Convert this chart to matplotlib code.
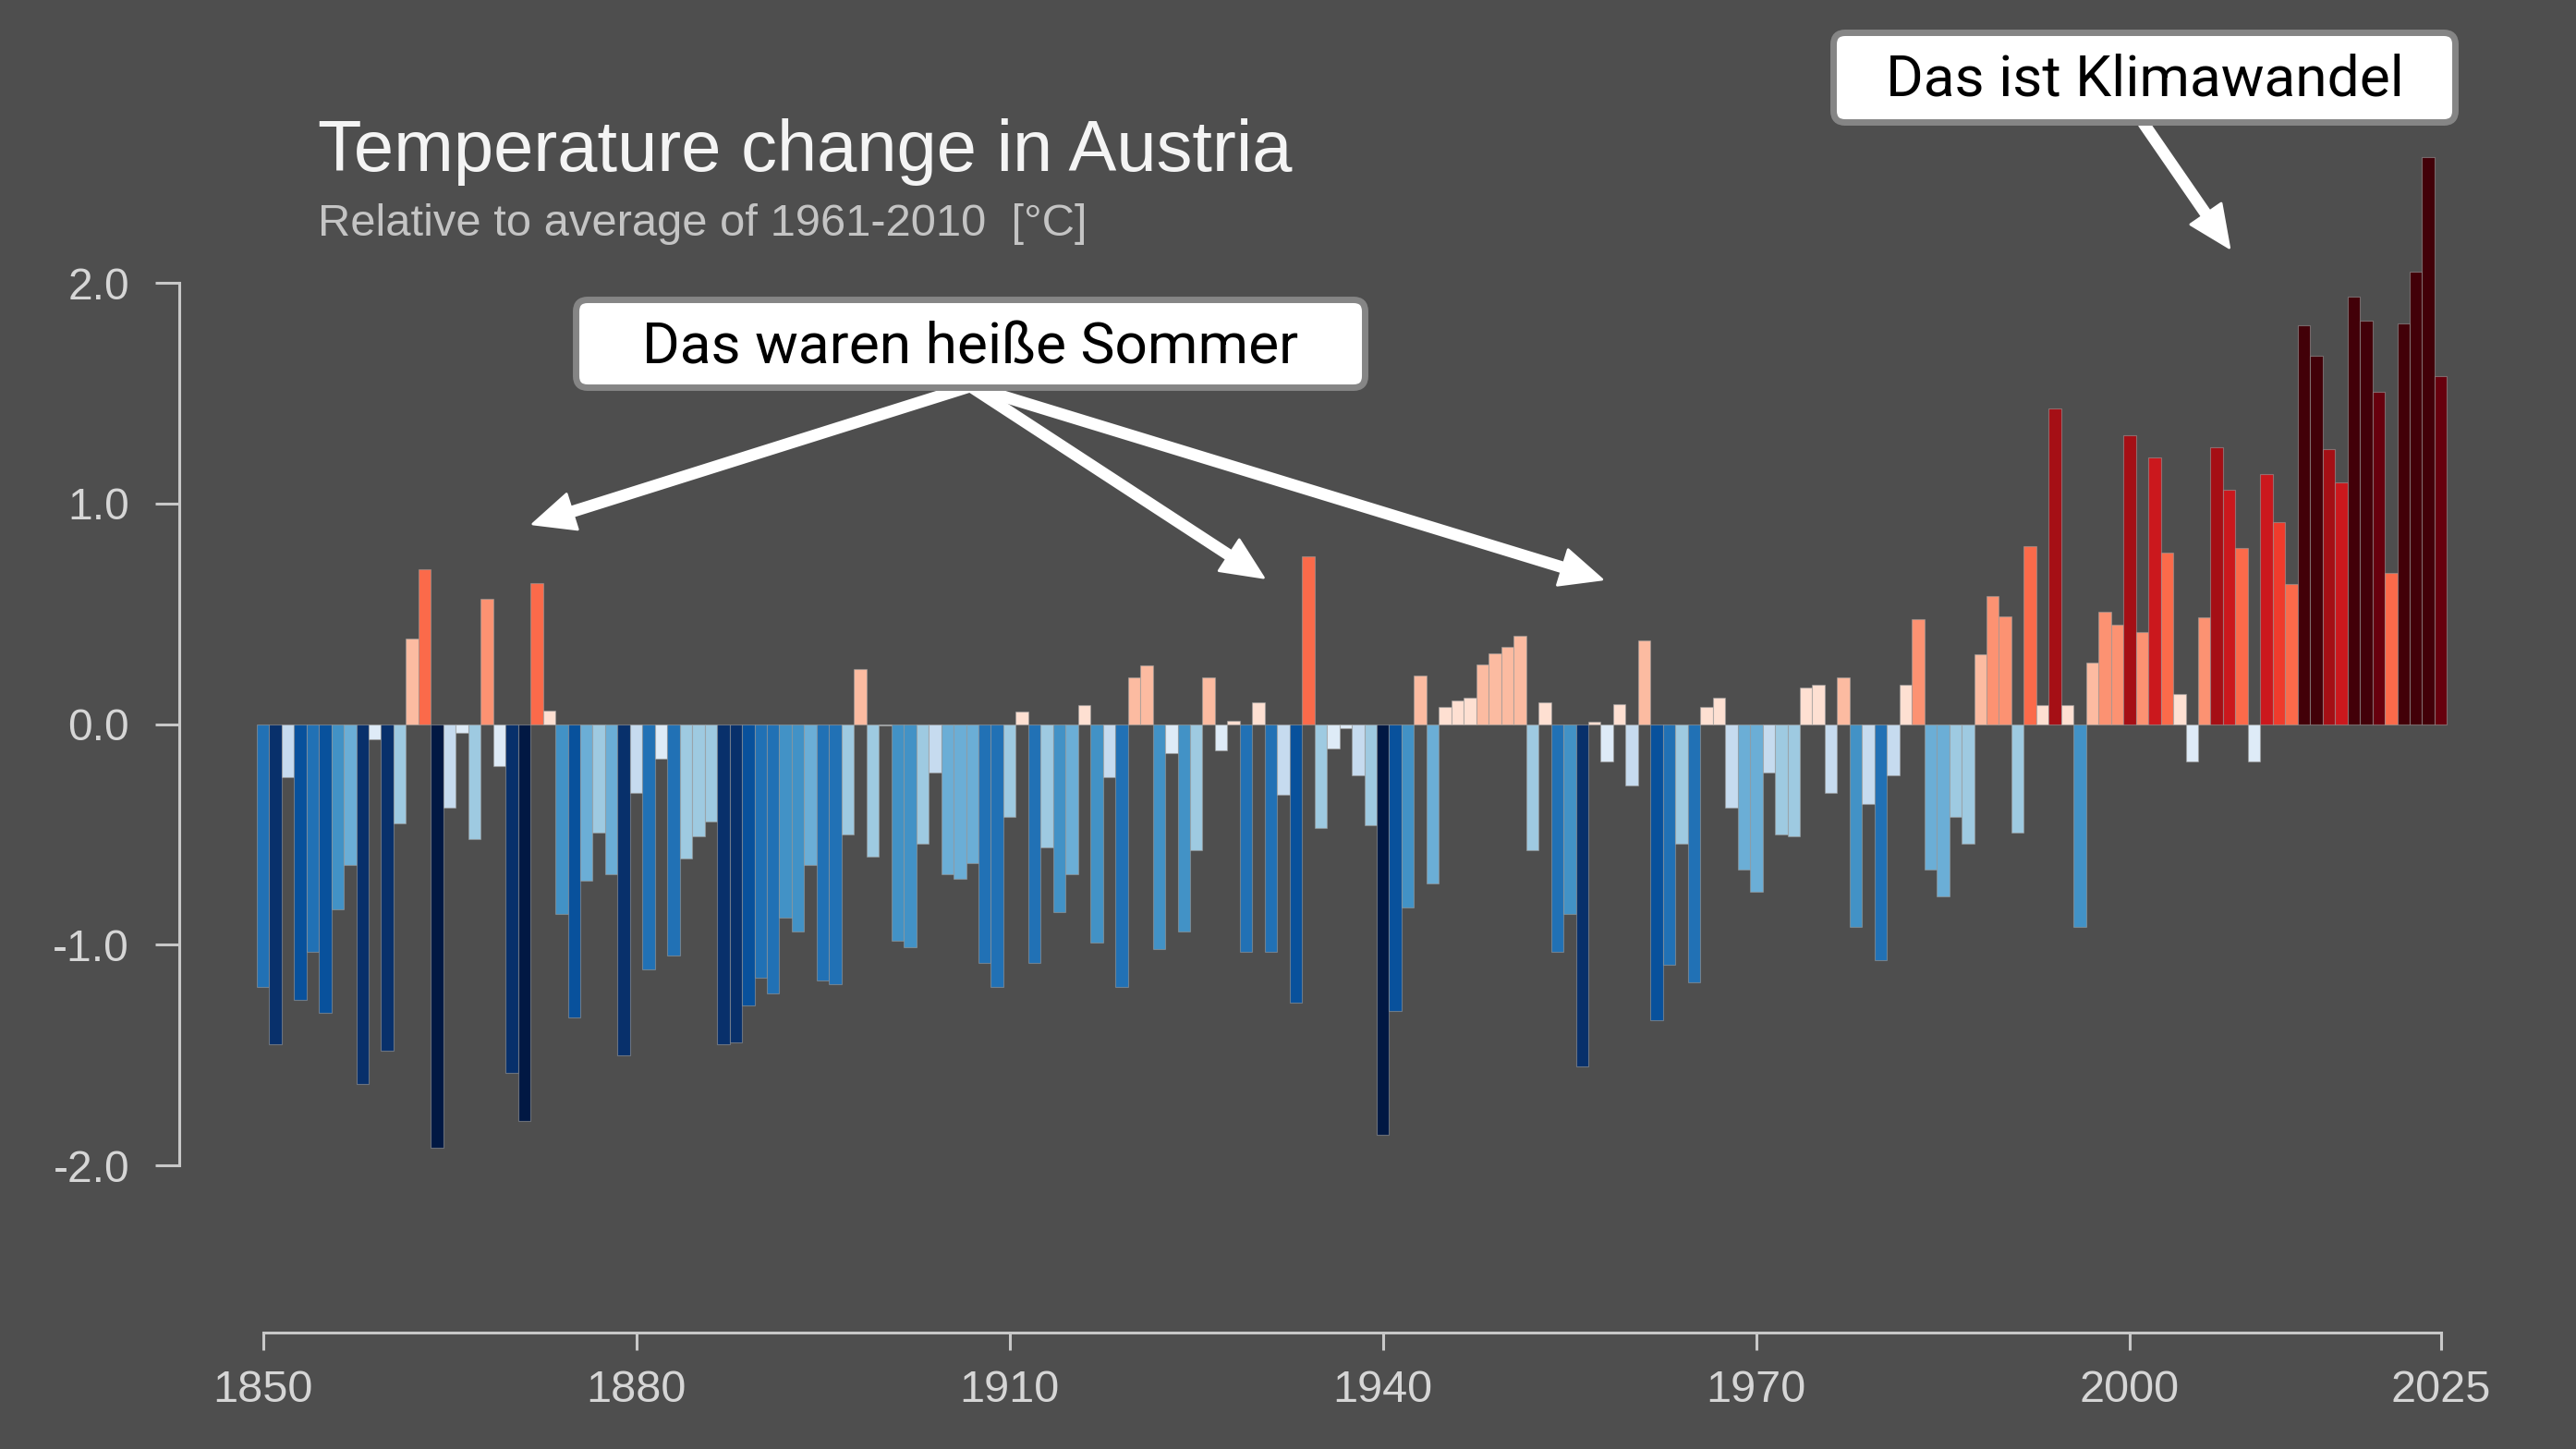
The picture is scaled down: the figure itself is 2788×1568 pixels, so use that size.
import numpy as np
import matplotlib
matplotlib.use("Agg")
from matplotlib import pyplot as plt
from matplotlib.patches import FancyBboxPatch
from matplotlib.ticker import FormatStrFormatter

# Temperature anomaly per year, relative to 1961-2010 mean [°C]
years = np.arange(1850, 2026)
anomaly = [
    -1.19, -1.45, -0.24, -1.25, -1.03, -1.31, -0.84, -0.64, -1.63, -0.07,   # 1850s
    -1.48, -0.45, 0.39, 0.70, -1.92, -0.38, -0.04, -0.52, 0.57, -0.19,      # 1860s
    -1.58, -1.80, 0.64, 0.06, -0.86, -1.33, -0.71, -0.49, -0.68, -1.50,     # 1870s
    -0.31, -1.11, -0.155, -1.05, -0.61, -0.51, -0.44, -1.45, -1.44, -1.275, # 1880s
    -1.15, -1.22, -0.875, -0.94, -0.64, -1.16, -1.18, -0.50, 0.25, -0.60,   # 1890s
    -0.005, -0.98, -1.01, -0.54, -0.22, -0.68, -0.70, -0.63, -1.08, -1.19,  # 1900s
    -0.42, 0.056, -1.08, -0.56, -0.85, -0.68, 0.086, -0.99, -0.24, -1.19,   # 1910s
    0.21, 0.267, -1.02, -0.13, -0.94, -0.57, 0.21, -0.12, 0.015, -1.03,     # 1920s
    0.097, -1.03, -0.32, -1.26, 0.76, -0.47, -0.11, -0.02, -0.23, -0.46,    # 1930s
    -1.86, -1.30, -0.83, 0.22, -0.72, 0.078, 0.109, 0.118, 0.27, 0.32,      # 1940s
    0.35, 0.40, -0.57, 0.099, -1.03, -0.86, -1.55, 0.009, -0.17, 0.089,     # 1950s
    -0.28, 0.38, -1.34, -1.09, -0.54, -1.17, 0.078, 0.118, -0.38, -0.66,    # 1960s
    -0.76, -0.22, -0.50, -0.51, 0.167, 0.178, -0.31, 0.21, -0.92, -0.36,    # 1970s
    -1.07, -0.23, 0.178, 0.477, -0.66, -0.78, -0.42, -0.54, 0.318, 0.579,   # 1980s
    0.489, -0.49, 0.807, 0.088, 1.429, 0.088, -0.92, 0.278, 0.509, 0.449,   # 1990s
    1.309, 0.417, 1.209, 0.776, 0.136, -0.17, 0.485, 1.256, 1.064, 0.797,   # 2000s
    -0.17, 1.135, 0.916, 0.636, 1.807, 1.668, 1.246, 1.096, 1.937, 1.827,   # 2010s
    1.506, 0.685, 1.816, 2.049, 2.568, 1.577,                               # 2020s
]
anomaly = np.array(anomaly)

x_ticks = [1850, 1880, 1910, 1940, 1970, 2000, 2025]
y_ticks = [-2.0, -1.0, 0.0, 1.0, 2.0]

title = "Temperature change in Austria"
subtitle = "Relative to average of 1961-2010  [°C]"
note_summers = "Das waren heiße Sommer"
note_climate = "Das ist Klimawandel"

# stripes palette, one colour per 0.205 °C step
blues = ['#deebf7', '#c6dbef', '#9ecae1', '#6baed6', '#4292c6',
         '#2171b5', '#08519c', '#08306b', '#011843']
reds = ['#fee0d2', '#fcbba1', '#fc9272', '#fb6a4a', '#ef3b2c',
        '#cb181d', '#a50f15', '#67000d', '#420008']
step = 0.205


def bar_color(v):
    k = int(np.floor(v / step))
    if k < 0:
        return blues[min(-k, 9) - 1]
    return reds[min(k, 8)]


colors = [bar_color(v) for v in anomaly]

W, H = 2788, 1568
bg = '#4e4e4e'
axis_col = '#c8c8c8'
label_col = '#d6d6d6'

fig = plt.figure(figsize=(W / 200, H / 200), dpi=200, facecolor=bg)
ax = fig.add_axes([194 / W, (H - 1442) / H, (2709 - 194) / W, (1442 - 115) / H])
ax.set_facecolor(bg)

ax.bar(years, anomaly, width=1.0, color=colors,
       edgecolor=(0.62, 0.62, 0.62, 0.55), linewidth=0.4, zorder=2)

ax.set_xlim(1843.28, 2030)
ax.set_ylim(-2.757, 2.8)

for s in ['top', 'right']:
    ax.spines[s].set_visible(False)
for s in ['left', 'bottom']:
    ax.spines[s].set_color(axis_col)
    ax.spines[s].set_linewidth(1.1)
ax.spines['left'].set_bounds(-2, 2)
ax.spines['bottom'].set_bounds(1850, 2025)

ax.set_xticks(x_ticks)
ax.set_yticks(y_ticks)
ax.yaxis.set_major_formatter(FormatStrFormatter('%.1f'))
ax.tick_params(axis='y', length=9.4, width=1.1, pad=10, color=axis_col,
               labelcolor=label_col, labelsize=17.3)
ax.tick_params(axis='x', length=6.8, width=1.1, pad=7.5, color=axis_col,
               labelcolor=label_col, labelsize=17.5)
for lab in ax.get_xticklabels() + ax.get_yticklabels():
    lab.set_fontfamily('Liberation Sans')

fig.text(344 / W, (H - 185) / H, title, color='#f4f4f4', fontsize=28.0,
         family='Liberation Sans', va='baseline', ha='left')
fig.text(344 / W, (H - 255) / H, subtitle, color='#c4c4c4', fontsize=17.6,
         family='Liberation Sans', va='baseline', ha='left')

# arrows (data coordinates), drawn under the boxes
arrow_kw = dict(width=3.6, headwidth=14.5, headlength=16, color='white', shrink=0)
for tip in [(1871.7, 0.907), (1930.4, 0.664), (1957.6, 0.656)]:
    ax.annotate('', xy=tip, xytext=(1906.85, 1.531), arrowprops=arrow_kw,
                annotation_clip=False, zorder=5)
ax.annotate('', xy=(2008.0, 2.159), xytext=(2001.1, 2.724), arrowprops=arrow_kw,
            annotation_clip=False, zorder=5)


def note_box(x0, y0, x1, y1, text, base_y):
    # pixel box (top-left origin) -> figure fraction
    box = FancyBboxPatch((x0 / W, (H - y1) / H), (x1 - x0) / W, (y1 - y0) / H,
                         boxstyle='round,pad=0,rounding_size=0.0045',
                         mutation_aspect=W / H, transform=fig.transFigure,
                         facecolor='white', edgecolor='#858585', linewidth=2.5,
                         zorder=10)
    fig.add_artist(box)
    fig.text((x0 + x1) / 2 / W, (H - base_y) / H, text, color='black',
             fontsize=22.4, family='Roboto', ha='center', va='baseline', zorder=11)


note_box(623.5, 324.5, 1477.5, 419.5, note_summers, 393)
note_box(1984.5, 35.5, 2657.5, 132.5, note_climate, 104)

fig.savefig('out.png', dpi=200, facecolor=bg)
